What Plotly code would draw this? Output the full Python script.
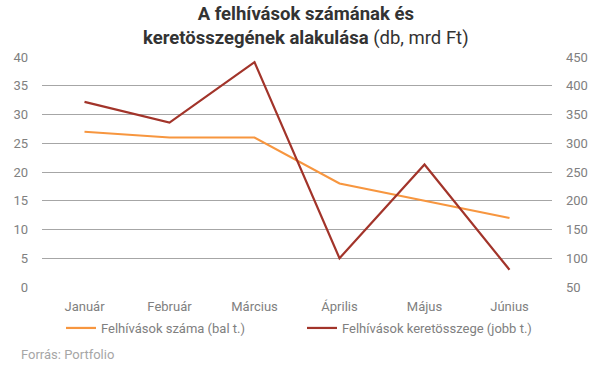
import plotly.graph_objects as go

months = ["Január", "Február", "Március", "Április", "Május", "Június"]
szama = [27, 26, 26, 18, 15, 12]
keretosszeg = [372, 336, 441, 100, 263, 80]
left_ticks = [0, 5, 10, 15, 20, 25, 30, 35, 40]
right_ticks = [50, 100, 150, 200, 250, 300, 350, 400, 450]

ORANGE = "#F7963F"
RED = "#A2342A"
GRAY = "#808080"

W, H = 599, 369
L, R, T, B = 42, 47, 57, 82
PW, PH = W - L - R, H - T - B

fig = go.Figure()
fig.add_trace(go.Scatter(x=months, y=szama, mode="lines", name="Felhívások száma (bal t.)",
                         line=dict(color=ORANGE, width=2.2), legend="legend"))
fig.add_trace(go.Scatter(x=months, y=keretosszeg, mode="lines", name="Felhívások keretösszege (jobb t.)",
                         line=dict(color=RED, width=2.2), yaxis="y2", legend="legend2"))

leg_common = dict(orientation="h", xanchor="left", y=-(313 - T - PH) / PH, yanchor="top",
                  itemwidth=30, font=dict(size=13, color=GRAY), bgcolor="rgba(0,0,0,0)")

fig.update_layout(
    width=W, height=H,
    margin=dict(l=L, r=R, t=T, b=B, autoexpand=False),
    paper_bgcolor="white", plot_bgcolor="white",
    font=dict(family="Roboto", size=13, color=GRAY),
    xaxis=dict(type="category", range=[-0.5, 5.5], showgrid=False, showline=False,
               ticks="", tickfont=dict(size=13, color=GRAY), zeroline=False,
               automargin=False, ticklabelstandoff=10),
    yaxis=dict(range=[0, 40], tickvals=left_ticks, showgrid=True, gridcolor="#A6A6A6",
               gridwidth=1, zeroline=False, ticks="", ticklabelstandoff=13,
               tickfont=dict(size=13, color=GRAY), automargin=False),
    yaxis2=dict(range=[50, 450], tickvals=right_ticks, overlaying="y", side="right",
                showgrid=False, zeroline=False, ticks="", ticklabelstandoff=13,
                tickfont=dict(size=13, color=GRAY), automargin=False),
    showlegend=True,
    legend=dict(x=(61 - L) / PW, **leg_common),
    legend2=dict(x=(302 - L) / PW, **leg_common),
    annotations=[
        dict(text="<b>A felhívások számának és</b><br><b>keretösszegének alakulása</b> (db, mrd Ft)",
             xref="paper", yref="paper", x=(306 - L) / PW, xanchor="center",
             y=1 + (T - 1) / PH, yanchor="top", showarrow=False, align="center",
             font=dict(family="Roboto", size=18.5, color="#333333")),
        dict(text="Forrás: Portfolio", xref="paper", yref="paper",
             x=(19 - L) / PW, xanchor="left", y=-(345 - T - PH) / PH, yanchor="top",
             showarrow=False, font=dict(size=13, color="#A6A6A6")),
    ],
)

fig.write_html("out.html", config={"displayModeBar": False},
               post_script="document.body.style.margin='0';")
